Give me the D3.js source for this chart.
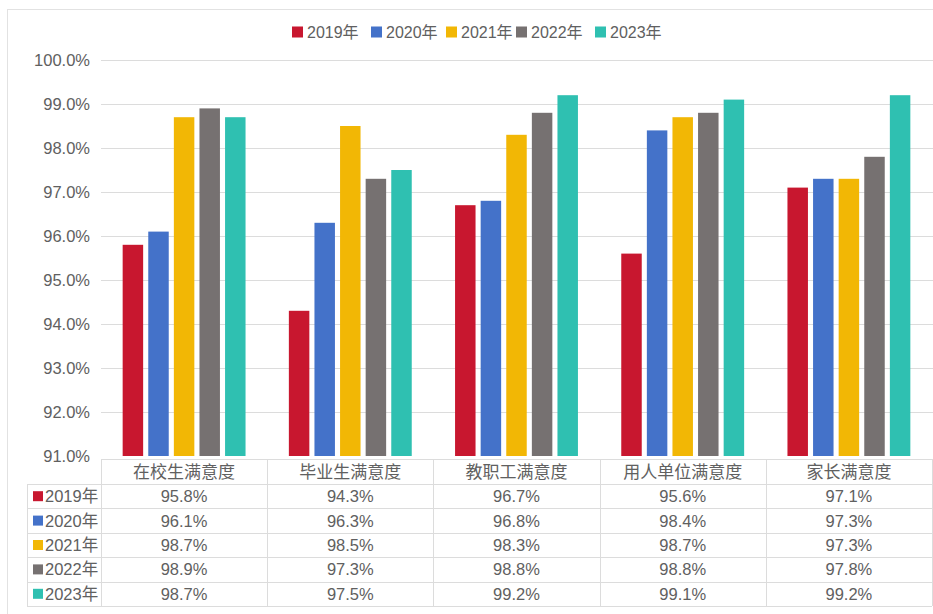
<!DOCTYPE html>
<html>
<head>
<meta charset="utf-8">
<script src="https://cdn.jsdelivr.net/npm/d3@7"></script>
<style>
body { margin: 0; background: #fff; }
svg { font-family: "Liberation Sans", "Noto Sans CJK SC", sans-serif; }
</style>
</head>
<body>
<svg width="933" height="614"></svg>
<script>
// chart data
var categories = ["在校生满意度", "毕业生满意度", "教职工满意度", "用人单位满意度", "家长满意度"];
var years = ["2019年", "2020年", "2021年", "2022年", "2023年"];
var colors = ["#c8172f", "#4472c9", "#f2b705", "#767171", "#2fc0b1"];
var v2019 = [95.8, 94.3, 96.7, 95.6, 97.1];
var v2020 = [96.1, 96.3, 96.8, 98.4, 97.3];
var v2021 = [98.7, 98.5, 98.3, 98.7, 97.3];
var v2022 = [98.9, 97.3, 98.8, 98.8, 97.8];
var v2023 = [98.7, 97.5, 99.2, 99.1, 99.2];
var yTicks = [91, 92, 93, 94, 95, 96, 97, 98, 99, 100];

var series = [v2019, v2020, v2021, v2022, v2023];
var textColor = "#606060";
var lineColor = "#dcdcdc";

var svg = d3.select("svg");

// outer frame
svg.append("rect")
    .attr("x", 7.5).attr("y", 9.5)
    .attr("width", 940).attr("height", 620)
    .attr("fill", "none").attr("stroke", "#e2e2e2");

var x0 = d3.scaleBand().domain(categories).range([101, 932]);
var x1 = d3.scaleBand().domain(years).range([-64, 64]).paddingInner(0.2).paddingOuter(0.1);
var y = d3.scaleLinear().domain([91, 100]).range([456, 60]);

// gridlines
svg.append("g").selectAll("line")
    .data(yTicks.slice(1))
    .enter().append("line")
    .attr("x1", 101).attr("x2", 933)
    .attr("y1", function(d){ return y(d) + 0.5; })
    .attr("y2", function(d){ return y(d) + 0.5; })
    .attr("stroke", lineColor);

// y axis labels
svg.append("g").selectAll("text")
    .data(yTicks)
    .enter().append("text")
    .attr("x", 90)
    .attr("y", function(d){ return y(d); })
    .attr("dy", "0.36em")
    .attr("text-anchor", "end")
    .attr("font-size", 16.5)
    .attr("fill", textColor)
    .text(function(d){ return d.toFixed(1) + "%"; });

// bars
series.forEach(function(vals, si){
    svg.append("g").selectAll("rect")
        .data(vals)
        .enter().append("rect")
        .attr("x", function(d, i){ return x0(categories[i]) + x0.bandwidth() / 2 + x1(years[si]); })
        .attr("y", function(d){ return y(d); })
        .attr("width", x1.bandwidth())
        .attr("height", function(d){ return y(91) - y(d); })
        .attr("fill", colors[si]);
});

// legend
var legendX = [292, 371, 446, 516, 595];
var legend = svg.append("g").selectAll("g")
    .data(years)
    .enter().append("g")
    .attr("transform", function(d, i){ return "translate(" + legendX[i] + ",32)"; });
legend.append("rect")
    .attr("x", 0).attr("y", -5.5)
    .attr("width", 11).attr("height", 11)
    .attr("fill", function(d, i){ return colors[i]; });
legend.append("text")
    .attr("x", 15).attr("dy", "0.36em")
    .attr("font-size", 16)
    .attr("fill", textColor)
    .text(function(d){ return d; });

// data table
var tTop = 459, headH = 25, rowH = 24.4;
var tBottom = tTop + headH + rowH * years.length;
var tbl = svg.append("g");

// horizontal lines
tbl.append("line")
    .attr("x1", 101).attr("x2", 932)
    .attr("y1", tTop + 0.5).attr("y2", tTop + 0.5)
    .attr("stroke", lineColor);
d3.range(years.length + 1).forEach(function(r){
    var yy = Math.round(tTop + headH + r * rowH) + 0.5;
    tbl.append("line")
        .attr("x1", 27).attr("x2", 932)
        .attr("y1", yy).attr("y2", yy)
        .attr("stroke", lineColor);
});
// vertical lines
tbl.append("line")
    .attr("x1", 27.5).attr("x2", 27.5)
    .attr("y1", tTop + headH).attr("y2", tBottom)
    .attr("stroke", lineColor);
categories.concat(["end"]).forEach(function(c, i){
    var xx = (i < categories.length ? x0(c) : x0.range()[1]);
    xx = Math.round(xx) + 0.5;
    tbl.append("line")
        .attr("x1", xx).attr("x2", xx)
        .attr("y1", tTop).attr("y2", tBottom)
        .attr("stroke", lineColor);
});

// header texts
tbl.selectAll("text.cat")
    .data(categories)
    .enter().append("text")
    .attr("class", "cat")
    .attr("x", function(d){ return x0(d) + x0.bandwidth() / 2; })
    .attr("y", tTop + headH / 2)
    .attr("dy", "0.36em")
    .attr("text-anchor", "middle")
    .attr("font-size", 17)
    .attr("fill", textColor)
    .text(function(d){ return d; });

// row labels and values
years.forEach(function(yr, si){
    var cy = tTop + headH + rowH * si + rowH / 2;
    tbl.append("rect")
        .attr("x", 33).attr("y", cy - 5)
        .attr("width", 10).attr("height", 10)
        .attr("fill", colors[si]);
    tbl.append("text")
        .attr("x", 45).attr("y", cy)
        .attr("dy", "0.36em")
        .attr("font-size", 16.5)
        .attr("fill", textColor)
        .text(yr);
    tbl.append("g").selectAll("text")
        .data(series[si])
        .enter().append("text")
        .attr("x", function(d, i){ return x0(categories[i]) + x0.bandwidth() / 2; })
        .attr("y", cy)
        .attr("dy", "0.36em")
        .attr("text-anchor", "middle")
        .attr("font-size", 16.5)
        .attr("fill", textColor)
        .text(function(d){ return d.toFixed(1) + "%"; });
});
</script>
</body>
</html>
